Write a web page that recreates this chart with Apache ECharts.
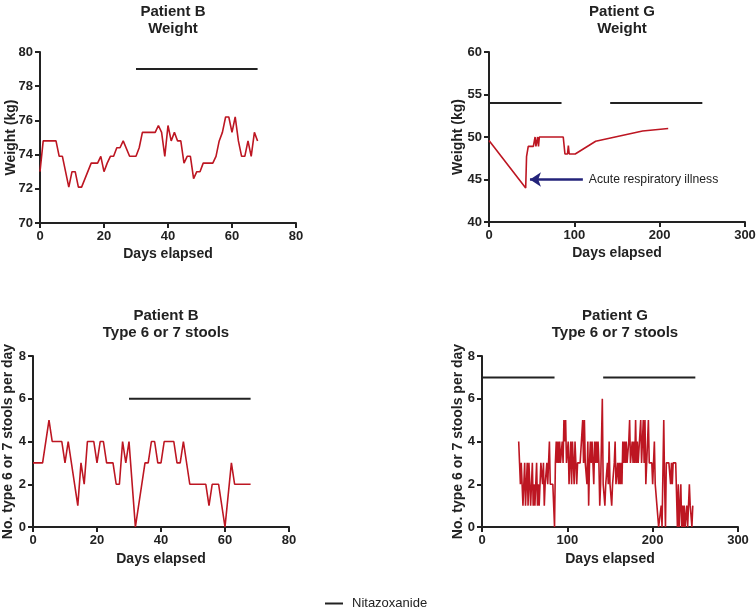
<!DOCTYPE html>
<html><head><meta charset="utf-8">
<script src="https://cdn.jsdelivr.net/npm/echarts@6/dist/echarts.min.js"></script>
<style>html,body{margin:0;padding:0;background:#fff}#c{width:756px;height:608px}</style>
</head><body><div id="c"></div>
<script>
// Patient B weight
const weightBDays = [0,1,5,6,7,9,10,11,12,13,16,18,19,20,21,22,23,24,25,26,28,30,31,32,36,37,38,39,40,41,42,43,44,45,46,47,48,49,50,51,54,55,56,57,58,59,60,61,62,63,64,65,66,67,68];
const weightBVals = [73.0,74.8,74.8,73.9,73.9,72.1,73.0,73.0,72.1,72.1,73.5,73.5,73.9,73.0,73.5,73.9,73.9,74.4,74.4,74.8,73.9,73.9,74.4,75.3,75.3,75.7,75.3,73.9,75.7,74.8,75.3,74.8,74.8,73.5,73.9,73.9,72.6,73.0,73.0,73.5,73.5,73.9,74.8,75.3,76.2,76.2,75.3,76.2,74.8,73.9,73.9,74.8,73.9,75.3,74.8];
// Patient G weight
const weightGDays = [0,43,44,46,52,54,55,57,58,59,87,89,92,93,94,101,125,180,210];
const weightGVals = [49.6,44.0,47.7,48.9,48.9,50,48.9,50,48.9,50,50,48,48,49,48,48,49.5,50.7,51.0];
// Patient B stools
const stoolsBDays = [0,3,5,6,9,10,11,14,15,16,17,19,20,21,22,23,25,26,27,28,29,30,32,35,36,37,38,39,40,41,44,45,46,47,49,54,55,56,58,60,62,63,68];
const stoolsBVals = [3,3,5,4,4,3,4,1,3,2,4,4,3,4,4,3,3,2,2,4,3,4,0,3,3,4,4,3,3,4,4,3,3,4,2,2,1,2,2,0,3,2,2];
// Patient G stools (daily, starting day 43)
const stoolsGStartDay = 43;
const stoolsGVals = [
 4,3,2,3,2,1,2,3,
 1,2,3,1,3,2,1,2,3,1,
 2,1,2,3,1,2,1,2,3,3,
 2,3,1,2,2,3,2,3,4,2,
 2,2,2,2,0,
 3,4,3,4,3,4,3,3,4,3,
 5,4,5,3,3,
 4,2,3,4,2,4,3,2,4,3,
 2,3,3,3,3,3,3,5,3,5,
 3,3,2,4,1,3,4,3,4,3,
 2,4,3,4,3,4,3,1,2,4,
 6,2,2,1,2,2,3,2,4,2,
 2,1,2,2,3,4,2,2,3,2,
 3,2,3,2,4,3,4,3,4,3,
 3,4,5,3,3,4,3,4,3,5,
 3,4,3,3,3,5,3,4,5,3,
 5,2,3,3,5,3,3,3,3,2,
 3,4,2,2,1,1,0,0,0,1,
 0,0,5,2,0,3,3,3,3,3,
 2,3,2,3,3,3,3,3,0,2,
 0,0,2,0,1,0,1,0,0,1,
 0,1,2,1,1,0,1];
// Nitazoxanide treatment periods [start, end] and bar level
const nitaB = [[30,68]];
const nitaG = [[0,85],[142,250]];
const nitaLevel = {wB:79, wG:54, sB:6, sG:7};
// Annotation
const illnessArrow = {from:[110,45], to:[48,45], text:'Acute respiratory illness'};
const titles = ['Patient B\nWeight','Patient G\nWeight','Patient B\nType 6 or 7 stools','Patient G\nType 6 or 7 stools'];

const FONT = 'Liberation Sans, Arial, Helvetica, sans-serif';
const RED = '#bd1622';
const zip = (a,b)=>a.map((v,i)=>[v,b[i]]);

const grids = [
  {left:40, top:52, width:256, height:171, outerBoundsMode:'none', containLabel:false},
  {left:489, top:52, width:256, height:170, outerBoundsMode:'none', containLabel:false},
  {left:33, top:356, width:256, height:171, outerBoundsMode:'none', containLabel:false},
  {left:482, top:356, width:256, height:171, outerBoundsMode:'none', containLabel:false}
];
const axisCommon = {
  axisLine:{show:true, onZero:false, lineStyle:{color:'#222', width:2}},
  axisTick:{show:true, inside:false, length:5, lineStyle:{color:'#222', width:2}},
  axisLabel:{color:'#222', fontWeight:'bold', fontSize:13, fontFamily:FONT, margin:7},
  splitLine:{show:false},
  nameMoveOverlap:false,
  nameTextStyle:{color:'#222', fontWeight:'bold', fontSize:14, fontFamily:FONT}
};
function xAx(i, max, interval, gap){
  return Object.assign({}, axisCommon, {type:'value', gridIndex:i, min:0, max:max, interval:interval,
    name:'Days elapsed', nameLocation:'middle', nameGap:gap});
}
function yAx(i, min, max, interval, name, gap){
  return Object.assign({}, axisCommon, {type:'value', gridIndex:i, min:min, max:max, interval:interval,
    name:name, nameLocation:'middle', nameGap:gap});
}
function dataSeries(i, data){
  return {type:'line', xAxisIndex:i, yAxisIndex:i, data:data, showSymbol:false, symbol:'none',
    lineStyle:{color:RED, width:1.6}, itemStyle:{color:RED}, silent:true, z:3};
}
function nitaSeries(i, periods, level){
  return periods.map(p=>({type:'line', name:'Nitazoxanide', xAxisIndex:i, yAxisIndex:i,
    data:[[p[0],level],[p[1],level]], showSymbol:false, symbol:'none',
    lineStyle:{color:'#222', width:2}, itemStyle:{color:'#222'}, silent:true, z:2}));
}

const stoolsGData = stoolsGVals.map((v,i)=>[stoolsGStartDay+i, v]);

const series = [
  dataSeries(0, zip(weightBDays, weightBVals)),
  dataSeries(1, zip(weightGDays, weightGVals)),
  dataSeries(2, zip(stoolsBDays, stoolsBVals)),
  dataSeries(3, stoolsGData),
  ...nitaSeries(0, nitaB, nitaLevel.wB),
  ...nitaSeries(1, nitaG, nitaLevel.wG),
  ...nitaSeries(2, nitaB, nitaLevel.sB),
  ...nitaSeries(3, nitaG, nitaLevel.sG),
  {type:'line', xAxisIndex:1, yAxisIndex:1, data:[], silent:true,
   markLine:{silent:true, symbol:['arrow','none'], symbolSize:[11,11], animation:false,
     lineStyle:{color:'#23237a', width:2.5, type:'solid'},
     label:{show:true, position:'end', distance:6, formatter:illnessArrow.text, color:'#222', fontSize:12.2, fontFamily:FONT},
     data:[[{coord:illnessArrow.to},{coord:illnessArrow.from}]]}}
];

const titleComps = titles.map((t,i)=>({
  text:t, left:grids[i].left + grids[i].width/2, top: i<2 ? -2 : 302, textAlign:'center',
  textStyle:{fontSize:15, fontWeight:'bold', color:'#222', fontFamily:FONT, lineHeight:17}
}));

const chart = echarts.init(document.getElementById('c'), null, {renderer:'canvas'});
chart.setOption({
  animation:false,
  backgroundColor:'#fff',
  title:titleComps,
  grid:grids,
  xAxis:[xAx(0,80,20,24), xAx(1,300,100,24), xAx(2,80,20,25), xAx(3,300,100,25)],
  yAxis:[yAx(0,70,80,2,'Weight (kg)',22), yAx(1,40,60,5,'Weight (kg)',24),
         yAx(2,0,8,2,'No. type 6 or 7 stools per day',18), yAx(3,0,8,2,'No. type 6 or 7 stools per day',17)],
  legend:{data:['Nitazoxanide'], left:320, top:592, icon:'rect', itemWidth:18, itemHeight:2, itemGap:8,
    textStyle:{fontSize:13, color:'#222', fontFamily:FONT, padding:[0,0,0,4]}, selectedMode:false},
  series:series
});
</script></body></html>
